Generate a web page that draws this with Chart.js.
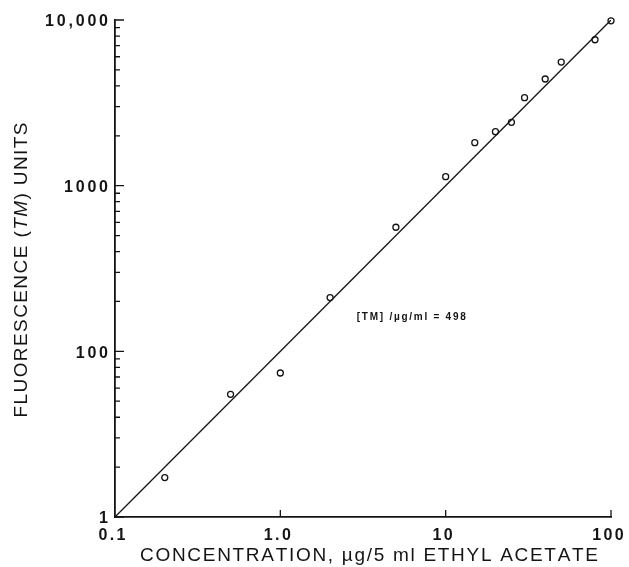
<!DOCTYPE html>
<html>
<head>
<meta charset="utf-8">
<script src="https://cdn.jsdelivr.net/npm/chart.js@4.4.1/dist/chart.umd.min.js"></script>
<style>
html, body { margin: 0; padding: 0; background: #fff; }
#wrap { width: 629px; height: 567px; }
</style>
</head>
<body>
<div id="wrap"><canvas id="tmChart" width="629" height="567"></canvas></div>
<script>
// measured points, ug/5 ml vs fluorescence units
var concentration = [0.2, 0.5, 1.0, 2, 5, 10, 15, 20, 25, 30, 40, 50, 80, 100];
var fluorescence = [17.3, 55, 74, 211, 561, 1133, 1817, 2117, 2412, 3395, 4404, 5570, 7600, 9890];

// fitted line end points
var fitConcentration = [0.1, 100];
var fitFluorescence = [10, 10000];

var xTickValues = [0.1, 1, 10, 100];
var xTickLabels = ['0.1', '1.0', '10', '100'];
var yTickValues = [10, 100, 1000, 10000];
var yTickLabels = ['1', '100', '1000', '10,000'];

var xTitle = 'CONCENTRATION, \u00b5g/5 ml ETHYL ACETATE';
var yTitleParts = ['FLUORESCENCE (', 'TM', ') UNITS'];
var fitNote = '[TM] /\u00b5g/ml = 498';
var fitNoteAt = [2.9, 161];

(function () {
	var INK = '#141414';
	var FAMILY = '"Liberation Sans", Arial, Helvetica, sans-serif';

	function toPoints(xs, ys) {
		return xs.map(function (x, i) { return { x: x, y: ys[i] }; });
	}

	// draw text char by char so spacing can be stretched like the print
	function runWidth(ctx, parts, ls) {
		var w = 0, n = 0;
		parts.forEach(function (p) {
			ctx.font = p.font;
			for (var i = 0; i < p.text.length; i++) {
				w += ctx.measureText(p.text[i]).width;
				n++;
			}
		});
		return w + ls * (n - 1);
	}
	function charCount(parts) {
		return parts.reduce(function (s, p) { return s + p.text.length; }, 0);
	}
	function drawRun(ctx, parts, x, y, ls, align, fitTo) {
		if (fitTo) {
			ls = (fitTo - runWidth(ctx, parts, 0)) / (charCount(parts) - 1);
		}
		var w = runWidth(ctx, parts, ls);
		var cx = align === 'right' ? x - w : (align === 'center' ? x - w / 2 : x);
		ctx.textAlign = 'left';
		parts.forEach(function (p) {
			ctx.font = p.font;
			for (var i = 0; i < p.text.length; i++) {
				ctx.fillText(p.text[i], cx, y);
				cx += ctx.measureText(p.text[i]).width + ls;
			}
		});
	}

	var paperAxes = {
		id: 'paperAxes',
		afterDraw: function (chart) {
			var ctx = chart.ctx;
			var a = chart.chartArea;
			var xs = chart.scales.x, ys = chart.scales.y;
			ctx.save();
			ctx.strokeStyle = INK;
			ctx.fillStyle = INK;
			ctx.lineWidth = 1.3;

			// inward ticks on the y axis, decades plus 2..9
			ctx.beginPath();
			yTickValues.forEach(function (v, i) {
				var py = ys.getPixelForValue(v);
				ctx.moveTo(a.left, py);
				ctx.lineTo(a.left + 9, py);
				if (i < yTickValues.length - 1) {
					for (var m = 2; m < 10; m++) {
						var pm = ys.getPixelForValue(v * m);
						ctx.moveTo(a.left, pm);
						ctx.lineTo(a.left + 5, pm);
					}
				}
			});
			// upward ticks on the x axis
			xTickValues.forEach(function (v, i) {
				if (i === 0) return;
				var px = xs.getPixelForValue(v);
				ctx.moveTo(px, a.bottom);
				ctx.lineTo(px, a.bottom - 7);
			});
			ctx.stroke();

			// tick labels
			ctx.textBaseline = 'middle';
			var tickFont = 'bold 16px ' + FAMILY;
			yTickValues.forEach(function (v, i) {
				var py = ys.getPixelForValue(v) + 2;
				drawRun(ctx, [{ text: yTickLabels[i], font: tickFont }], a.left - 7, py, 2.8, 'right');
			});
			xTickValues.forEach(function (v, i) {
				var px = xs.getPixelForValue(v);
				drawRun(ctx, [{ text: xTickLabels[i], font: tickFont }], px - 3, a.bottom + 19, 2.4, 'center');
			});

			// axis titles
			var titleFont = '19px ' + FAMILY;
			drawRun(ctx, [{ text: xTitle, font: titleFont }], 369, a.bottom + 39, 0, 'center', 458);

			ctx.save();
			ctx.translate(22, 270);
			ctx.rotate(-Math.PI / 2);
			var yParts = [
				{ text: yTitleParts[0], font: titleFont },
				{ text: yTitleParts[1], font: 'italic ' + titleFont },
				{ text: yTitleParts[2], font: titleFont }
			];
			drawRun(ctx, yParts, 0, 0, 0, 'center', 295);
			ctx.restore();

			// slope note next to the line
			drawRun(ctx, [{ text: fitNote, font: 'bold 10px ' + FAMILY }],
				xs.getPixelForValue(fitNoteAt[0]), ys.getPixelForValue(fitNoteAt[1]), 0, 'left', 109);

			ctx.restore();
		}
	};

	var ctx = document.getElementById('tmChart').getContext('2d');
	var chart = new Chart(ctx, {
		type: 'scatter',
		data: {
			datasets: [
				{
					label: 'fit',
					data: toPoints(fitConcentration, fitFluorescence),
					showLine: true,
					borderColor: INK,
					borderWidth: 1.3,
					pointRadius: 0,
					order: 2
				},
				{
					label: 'TM',
					data: toPoints(concentration, fluorescence),
					pointRadius: 3,
					pointBorderWidth: 1.3,
					borderColor: INK,
					backgroundColor: 'rgba(0,0,0,0)',
					clip: false,
					order: 1
				}
			]
		},
		options: {
			responsive: false,
			animation: false,
			devicePixelRatio: 1,
			layout: { padding: { left: 115, right: 18, top: 20, bottom: 50 } },
			plugins: {
				legend: { display: false },
				tooltip: { enabled: false }
			},
			scales: {
				x: {
					type: 'logarithmic',
					min: 0.1,
					max: 100,
					ticks: { display: false },
					grid: { display: false, drawTicks: false },
					border: { display: true, color: INK, width: 1.8 }
				},
				y: {
					type: 'logarithmic',
					min: 10,
					max: 10000,
					ticks: { display: false },
					grid: { display: false, drawTicks: false },
					border: { display: true, color: INK, width: 1.8 }
				}
			}
		},
		plugins: [paperAxes]
	});
})();
</script>
</body>
</html>
